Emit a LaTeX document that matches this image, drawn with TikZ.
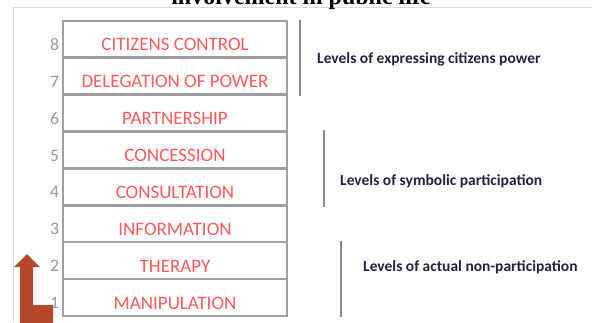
\documentclass[tikz,border=0pt]{standalone}
\usepackage{fontspec}
\setmainfont{Carlito}
\newfontfamily\titlefont{Liberation Serif}
\usetikzlibrary{positioning}

\definecolor{rungline}{HTML}{A0A0A0}
\definecolor{rungtext}{HTML}{FF5A5A}
\definecolor{numtext}{HTML}{8A9AB0}
\definecolor{levtext}{HTML}{1F2340}
\definecolor{barline}{HTML}{8C8C8C}
\definecolor{framegrey}{HTML}{D3DAE6}
\definecolor{arrowrust}{HTML}{B7472A}

\begin{document}
\begin{tikzpicture}[x=1pt,y=1pt,
    rung/.style={draw=rungline, line width=2.4pt, minimum width=224pt, minimum height=36.9pt, inner sep=0pt},
    rungname/.style={text=rungtext, font=\fontsize{19}{21}\selectfont, inner sep=0pt},
    rungnum/.style={text=numtext, font=\fontsize{17.5}{20}\selectfont, anchor=east, inner sep=0pt},
    levbar/.style={draw=barline, line width=2.4pt},
    levname/.style={text=levtext, font=\bfseries\fontsize{15.5}{18}\selectfont, anchor=west, inner sep=0pt}]

        % 1. Area della figura e cornice chiara
        \clip (0,0) rectangle (592,322);
        \draw[framegrey, line width=0.8pt] (13,0) -- (13,315) -- (592,315);

        % 2. Titolo tagliato in alto
        \node[font=\titlefont\bfseries\fontsize{24}{28}\selectfont, anchor=base] (title) at (301,317.5) {involvement in public life};

        % 3. La scala: gradini con numero e nome
        \foreach \k/\rungtxt in {1/MANIPULATION, 2/THERAPY, 3/INFORMATION, 4/CONSULTATION,
                5/CONCESSION, 6/PARTNERSHIP, 7/DELEGATION OF POWER, 8/CITIZENS CONTROL} {
            \node[rung] (r\k) at (175,{6+36.9*(\k-0.5)}) {};
            \node[rungname] (n\k) at ([yshift=-5.5pt]r\k.center) {\rungtxt};
            \node[rungnum] (k\k) at ([xshift=-2.5pt,yshift=-5.5pt]r\k.west) {\k};
        }

        % 4. Barre verticali dei livelli
        \coordinate (b1) at (300,0);
        \coordinate (b2) at (324,0);
        \coordinate (b3) at (341,0);
        \draw[levbar] (r8.north -| b1) -- (r7.south -| b1);
        \draw[levbar] (r5.north -| b2) -- (r4.south -| b2);
        \draw[levbar] (r2.north -| b3) -- (r1.south -| b3);

        % 5. Nomi dei livelli
        \node[levname] (lev3) at (317,263) {Levels of expressing citizens power};
        \node[levname] (lev2) at (340,141) {Levels of symbolic participation};
        \node[levname] (lev1) at (363,55) {Levels of actual non-participation};

        % 6. Freccia a L verso l'alto
        \fill[arrowrust] (27,68) -- (40,55) -- (33,55) -- (33,17) -- (53,17) -- (53,-1)
            -- (20,-1) -- (20,55) -- (14,55) -- cycle;

\end{tikzpicture}
\end{document}
